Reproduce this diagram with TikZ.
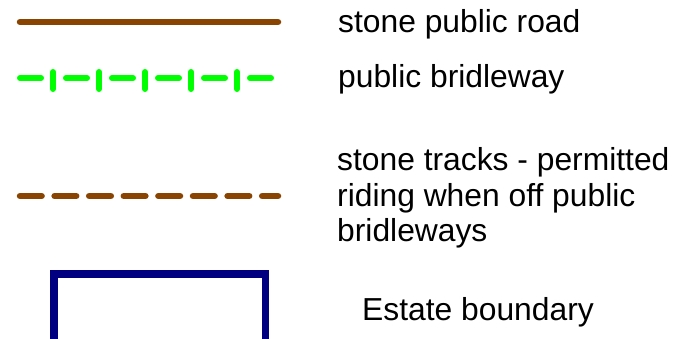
\documentclass[tikz,border=0pt]{standalone}
\usepackage{fontspec}
\setmainfont{Liberation Sans}
\definecolor{roadbrown}{HTML}{884400}
\definecolor{bridlegreen}{HTML}{00FF00}
\definecolor{estatenavy}{HTML}{000080}
\begin{document}
\begin{tikzpicture}[x=1pt,y=-1pt,
  lbl/.style={anchor=base west,inner sep=0pt,font=\fontsize{31.8}{35.5}\selectfont,align=left},
  road/.style={line width=6.5pt,roadbrown,line cap=round},
  bridle/.style={line width=6pt,bridlegreen,line cap=round},
  track/.style={line width=6.5pt,roadbrown,line cap=round,dash pattern=on 21.6pt off 13pt},
  estate/.style={line width=7.5pt,estatenavy}]
\useasboundingbox (0,0) rectangle (700,338);
% stone public road
\coordinate (r1) at (20,22);
\coordinate (r2) at (278,22);
\draw[road] (r1) -- (r2);
\node[lbl] (t1) at (338,32) {stone public road};
% public bridleway
\foreach \i in {0,...,5} {
  \draw[bridle] ({20+46*\i},78) -- ({41+46*\i},78);
}
\foreach \i in {0,...,4} {
  \draw[bridle] ({53+46*\i},72) -- ({53+46*\i},89);
}
\node[lbl] (t2) at (338,87) {public bridleway};
% stone tracks
\coordinate (s1) at (20,196);
\coordinate (s2) at (278,196);
\draw[track] (s1) -- (s2);
\node[lbl] (t3) at (337,170) {stone tracks - permitted};
\node[lbl] (t4) at (337,206) {riding when off public};
\node[lbl] (t5) at (337,241) {bridleways};
% estate boundary
\begin{scope}
\clip (0,0) rectangle (700,338);
\draw[estate] (53.75,274) rectangle (265.5,360);
\end{scope}
\node[lbl] (t6) at (362,320) {Estate boundary};
\end{tikzpicture}
\end{document}
